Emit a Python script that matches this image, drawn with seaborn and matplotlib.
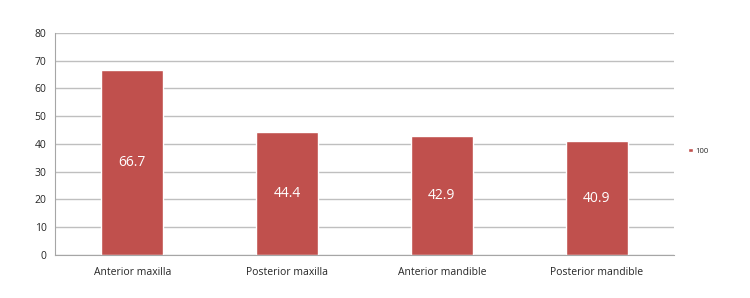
import pandas as pd
import matplotlib.pyplot as plt
import seaborn as sns
import numpy as np

sites = ["Anterior maxilla", "Posterior maxilla", "Anterior mandible", "Posterior mandible"]
values = [66.7, 44.4, 42.9, 40.9]
series = ["100", "100", "100", "100"]

df = pd.DataFrame({"site": sites, "value": values, "series": series})

sns.set_style("white")
plt.rcParams["font.family"] = ["Open Sans", "DejaVu Sans"]

fig = plt.figure(figsize=(7.5, 2.98), dpi=100)
ax = fig.add_axes([0.0733, 0.1443, 0.8254, 0.745])

sns.barplot(data=df, x="site", y="value", hue="series", palette=["#C0504D"],
            width=0.4, ax=ax, saturation=1)

for c in ax.containers:
    ax.bar_label(c, labels=[f"{v:.1f}" for v in values], label_type="center",
                 color="white", fontsize=10)

ax.set_ylim(0, 80)
ax.set_yticks(np.arange(0, 81, 10))
ax.set_xlim(-0.5, 3.5)
ax.yaxis.grid(True, color="#BFBFBF", linewidth=1)
ax.set_axisbelow(True)
ax.set_xlabel("")
ax.set_ylabel("")
for s in ["top", "right"]:
    ax.spines[s].set_visible(False)
for s in ["left", "bottom"]:
    ax.spines[s].set_color("#A6A6A6")
ax.tick_params(axis="y", length=4, color="#A6A6A6", labelsize=7.5, pad=2)
ax.tick_params(axis="x", length=0, labelsize=7.5, pad=9)
ax.set_xticks(np.arange(-0.5, 4, 1), minor=True)
ax.tick_params(axis="x", which="minor", length=4, color="#A6A6A6")

leg = ax.legend(loc="center left", bbox_to_anchor=(1.012, 0.468), frameon=False,
                fontsize=5.5, handlelength=0.6, handleheight=0.6, handletextpad=0.3)

fig.savefig("out.png", dpi=100)
